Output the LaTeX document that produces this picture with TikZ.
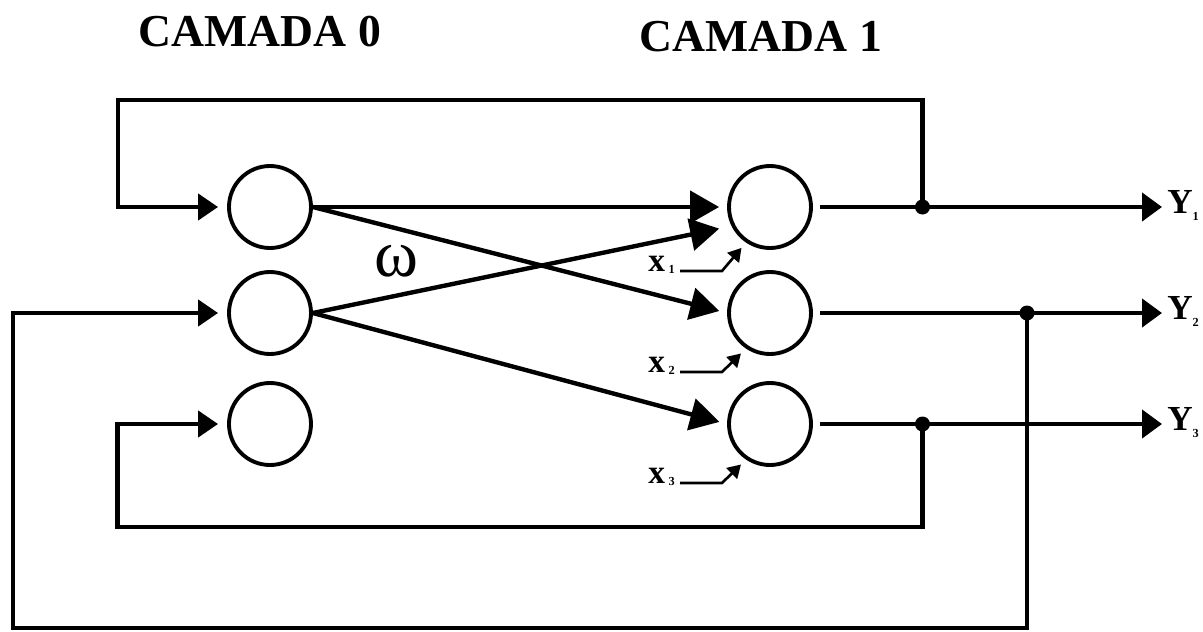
\documentclass[tikz,border=0pt]{standalone}
\usepackage{fontspec}
\setmainfont{Liberation Serif}
\usetikzlibrary{arrows.meta,positioning}

\begin{document}
\begin{tikzpicture}[
  neuron/.style={
    draw, circle, minimum size=1.64cm, inner sep=0pt, line width=2.2pt
  },
  title/.style={font=\fontsize{26}{26}\selectfont\bfseries},
  wire/.style={line width=2.5pt},
  weight/.style={wire, -{Triangle[length=0.58cm, width=0.64cm]}, shorten >=0.16cm},
  feedback/.style={wire, -{Triangle[length=0.4cm, width=0.52cm]}, shorten >=0.18cm},
  output/.style={wire, -{Triangle[length=0.4cm, width=0.56cm]},
    shorten <=0.14cm, shorten >=0.1cm},
  ext/.style={line width=1.5pt, -{Triangle[length=0.26cm, width=0.3cm]},
    shorten <=0.1cm, shorten >=0.14cm},
  xlab/.style={font=\fontsize{19}{19}\selectfont\bfseries, inner sep=0pt, anchor=base east},
  ylab/.style={font=\fontsize{20}{20}\selectfont\bfseries, inner sep=0pt, anchor=base west},
]

\useasboundingbox (0,0) rectangle (24.06,-12.64);

\node[title] (cam0) at (5.2,-0.63) {CAMADA 0};
\node[title] (cam1) at (15.22,-0.74) {CAMADA 1};

\node[neuron] (n0a) at (5.4,-4.14) {};
\node[neuron] (n0b) at (5.4,-6.26) {};
\node[neuron] (n0c) at (5.4,-8.48) {};

\node[neuron] (n1a) at (15.4,-4.14) {};
\node[neuron] (n1b) at (15.4,-6.26) {};
\node[neuron] (n1c) at (15.4,-8.48) {};

\node (w) at (7.92,-5.22) {\fontsize{38}{38}\selectfont ω};

\node[xlab] (x1) at (13.5,-5.42) {x\hspace{2pt}\raisebox{-1.7pt}{\fontsize{7}{7}\selectfont 1}};
\node[xlab] (x2) at (13.5,-7.44) {x\hspace{2pt}\raisebox{-1.7pt}{\fontsize{7}{7}\selectfont 2}};
\node[xlab] (x3) at (13.5,-9.66) {x\hspace{2pt}\raisebox{-1.7pt}{\fontsize{7}{7}\selectfont 3}};

\node[ylab] (y1) at (23.34,-4.26) {Y\raisebox{-4pt}{\fontsize{7}{7}\selectfont 1}};
\node[ylab] (y2) at (23.34,-6.38) {Y\raisebox{-4pt}{\fontsize{7}{7}\selectfont 2}};
\node[ylab] (y3) at (23.34,-8.60) {Y\raisebox{-4pt}{\fontsize{7}{7}\selectfont 3}};

\coordinate (j1) at (18.45,-4.14);
\coordinate (j2) at (20.54,-6.26);
\coordinate (j3) at (18.45,-8.48);

% weights between the two layers
\draw[weight] (n0a.east) -- (n1a.west);
\draw[weight] (n0a.east) -- (n1b.west);
\draw[weight] (n0b.east) -- ([yshift=-0.4cm]n1a.west);
\draw[weight] (n0b.east) -- (n1c.west);

% external inputs
\draw[ext] (x1.base east) -- ++(0.94,0) -- (n1a.236);
\draw[ext] (x2.base east) -- ++(0.94,0) -- (n1b.236);
\draw[ext] (x3.base east) -- ++(0.94,0) -- (n1c.236);

% outputs
\draw[output] (n1a) -- (n1a -| y1.west);
\draw[output] (n1b) -- (n1b -| y2.west);
\draw[output] (n1c) -- (n1c -| y3.west);

% feedback back to camada 0
\draw[feedback] (j1) |- (2.36,-2.0) |- (n0a);
\draw[feedback] (j2) |- (0.26,-12.56) |- (n0b);
\draw[feedback] (j3) |- (2.35,-10.54) |- (n0c);

\fill (j1) circle (0.15cm);
\fill (j2) circle (0.15cm);
\fill (j3) circle (0.15cm);

\end{tikzpicture}
\end{document}
